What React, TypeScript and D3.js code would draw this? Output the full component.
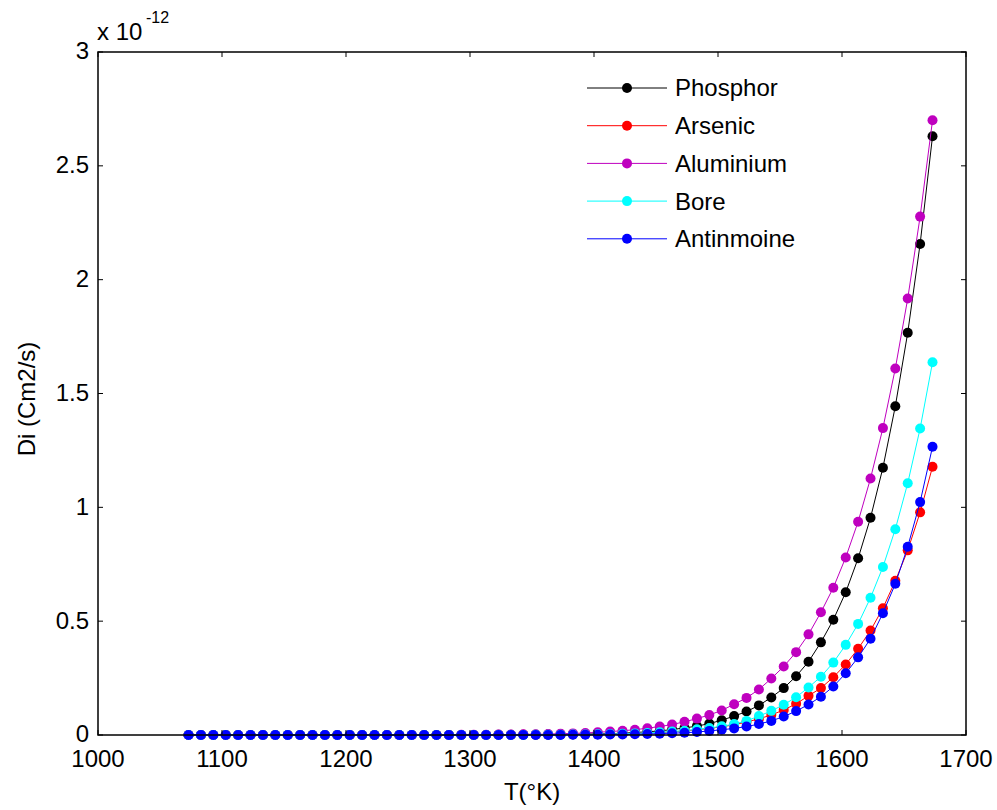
import React from "react";
import * as d3 from "d3";

// temperature in K
const temps = [
  1073, 1083, 1093, 1103, 1113, 1123, 1133, 1143, 1153, 1163, 1173, 1183, 1193, 1203, 1213, 1223,
  1233, 1243, 1253, 1263, 1273, 1283, 1293, 1303, 1313, 1323, 1333, 1343, 1353, 1363, 1373, 1383,
  1393, 1403, 1413, 1423, 1433, 1443, 1453, 1463, 1473, 1483, 1493, 1503, 1513, 1523, 1533, 1543,
  1553, 1563, 1573, 1583, 1593, 1603, 1613, 1623, 1633, 1643, 1653, 1663, 1673,
];

// Di values in units of 1e-12 cm2/s
const phosphor = [
  0, 0, 0, 0, 0, 0, 0, 0, 0, 0, 0, 0, 0, 0, 0, 0, 0, 0, 0, 0, 0, 0,
  0, 0, 0, 0.001, 0.001, 0.001, 0.001, 0.002, 0.002, 0.003, 0.004, 0.005, 0.006, 0.008, 0.011,
  0.014, 0.018, 0.024, 0.031, 0.039, 0.05, 0.065, 0.083, 0.103, 0.13, 0.165, 0.206, 0.258, 0.322,
  0.407, 0.506, 0.627, 0.776, 0.954, 1.174, 1.444, 1.767, 2.157, 2.63,
];
const arsenic = [
  0, 0, 0, 0, 0, 0, 0, 0, 0, 0, 0, 0, 0, 0, 0, 0, 0, 0, 0, 0, 0, 0, 0, 0, 0, 0, 0,
  0.001, 0.001, 0.001, 0.002, 0.002, 0.003, 0.003, 0.004, 0.005, 0.007, 0.009, 0.011, 0.014,
  0.018, 0.023, 0.029, 0.036, 0.045, 0.057, 0.071, 0.088, 0.11, 0.137, 0.172, 0.206, 0.254, 0.31,
  0.379, 0.459, 0.557, 0.677, 0.811, 0.978, 1.178,
];
const aluminium = [
  0, 0, 0, 0, 0, 0, 0, 0, 0, 0, 0, 0, 0, 0, 0, 0, 0, 0, 0, 0, 0, 0,
  0.001, 0.001, 0.001, 0.002, 0.002, 0.003, 0.003, 0.004, 0.006, 0.007, 0.009, 0.012, 0.015,
  0.019, 0.023, 0.03, 0.037, 0.046, 0.058, 0.072, 0.088, 0.108, 0.135, 0.163, 0.2, 0.248, 0.301,
  0.364, 0.442, 0.539, 0.647, 0.78, 0.937, 1.127, 1.348, 1.61, 1.917, 2.277, 2.7,
];
const bore = [
  0, 0, 0, 0, 0, 0, 0, 0, 0, 0, 0, 0, 0, 0, 0, 0, 0, 0, 0, 0, 0, 0, 0, 0, 0, 0, 0, 0,
  0.001, 0.001, 0.001, 0.002, 0.002, 0.003, 0.004, 0.005, 0.007, 0.009, 0.012, 0.015, 0.019,
  0.025, 0.031, 0.038, 0.048, 0.062, 0.083, 0.106, 0.133, 0.166, 0.209, 0.256, 0.318, 0.396,
  0.488, 0.603, 0.738, 0.904, 1.106, 1.346, 1.637,
];
const antinmoine = [
  0, 0, 0, 0, 0, 0, 0, 0, 0, 0, 0, 0, 0, 0, 0, 0, 0, 0, 0, 0, 0, 0, 0, 0, 0, 0, 0, 0, 0, 0, 0,
  0.001, 0.001, 0.001, 0.002, 0.002, 0.003, 0.004, 0.006, 0.008, 0.01, 0.013, 0.018, 0.023,
  0.029, 0.037, 0.048, 0.062, 0.081, 0.105, 0.134, 0.168, 0.213, 0.271, 0.341, 0.423, 0.535,
  0.664, 0.827, 1.023, 1.266,
];

const seriesNames = ["Phosphor", "Arsenic", "Aluminium", "Bore", "Antinmoine"];
const seriesValues = [phosphor, arsenic, aluminium, bore, antinmoine];
const seriesColors = ["#000000", "#ff0000", "#bf00bf", "#00ffff", "#0000ff"];

const xTicks = [1000, 1100, 1200, 1300, 1400, 1500, 1600, 1700];
const yTicks = [0, 0.5, 1, 1.5, 2, 2.5, 3];

const W = 997;
const H = 810;
const left = 98;
const right = 966;
const top = 52;
const bottom = 735;
const FONT = "'Liberation Sans', Arial, sans-serif";

export default function App() {
  const x = d3.scaleLinear().domain([1000, 1700]).range([left, right]);
  const y = d3.scaleLinear().domain([0, 3]).range([bottom, top]);
  const line = d3
    .line<number>()
    .x((_, i) => x(temps[i]))
    .y((d) => y(d));

  const tickLen = 5;
  const r = 5;

  return (
    <svg
      width={W}
      height={H}
      style={{ position: "absolute", left: 0, top: 0, background: "#fff" }}
      fontFamily={FONT}
    >
      <rect x={0} y={0} width={W} height={H} fill="#fff" />

      {/* series */}
      {seriesValues.map((vals, s) => (
        <g key={seriesNames[s]}>
          <path d={line(vals) || ""} fill="none" stroke={seriesColors[s]} strokeWidth={1} />
          {vals.map((v, i) => (
            <circle key={i} cx={x(temps[i])} cy={y(v)} r={r} fill={seriesColors[s]} />
          ))}
        </g>
      ))}

      {/* axes box */}
      <rect x={left} y={top} width={right - left} height={bottom - top} fill="none" stroke="#000" strokeWidth={1.5} />

      {xTicks.map((t) => (
        <g key={"x" + t}>
          <line x1={x(t)} x2={x(t)} y1={bottom} y2={bottom - tickLen} stroke="#000" />
          <line x1={x(t)} x2={x(t)} y1={top} y2={top + tickLen} stroke="#000" />
          <text x={x(t)} y={bottom + 32} fontSize={24} textAnchor="middle" fill="#000">
            {t}
          </text>
        </g>
      ))}
      {yTicks.map((t) => (
        <g key={"y" + t}>
          <line x1={left} x2={left + tickLen} y1={y(t)} y2={y(t)} stroke="#000" />
          <line x1={right} x2={right - tickLen} y1={y(t)} y2={y(t)} stroke="#000" />
          <text x={left - 9} y={y(t) - 1} dy="0.35em" fontSize={24} textAnchor="end" fill="#000">
            {t}
          </text>
        </g>
      ))}

      {/* exponent */}
      <text x={97} y={40} fontSize={24} fill="#000">
        x 10
      </text>
      <text x={146} y={23} fontSize={16} fill="#000">
        -12
      </text>

      {/* axis labels */}
      <text x={(left + right) / 2} y={800} fontSize={24} textAnchor="middle" fill="#000">
        T(°K)
      </text>
      <text
        transform={`translate(35,399) rotate(-90)`}
        fontSize={24}
        textAnchor="middle"
        fill="#000"
      >
        Di (Cm2/s)
      </text>

      {/* legend */}
      {seriesNames.map((name, s) => {
        const ly = 88 + s * 37.7;
        return (
          <g key={"l" + name}>
            <line x1={587} x2={667} y1={ly} y2={ly} stroke={seriesColors[s]} strokeWidth={1} />
            <circle cx={627} cy={ly} r={r} fill={seriesColors[s]} />
            <text x={675} y={ly} dy="0.35em" fontSize={24} fill="#000">
              {name}
            </text>
          </g>
        );
      })}
    </svg>
  );
}
